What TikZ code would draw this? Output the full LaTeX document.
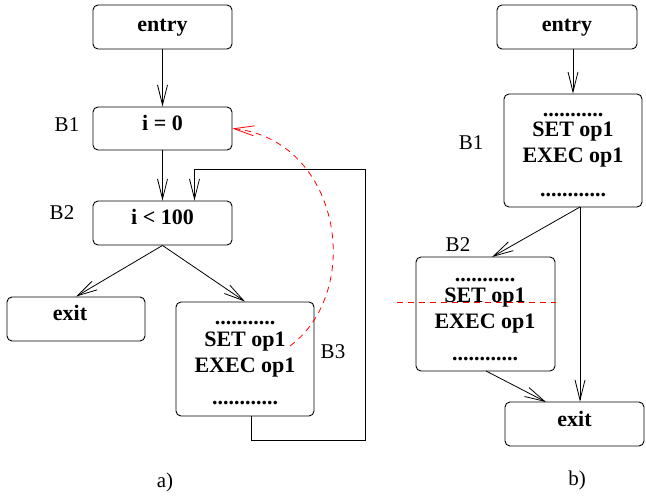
\documentclass[tikz,border=0pt]{standalone}
\usepackage{fontspec}
\setmainfont{Liberation Serif}
\usetikzlibrary{arrows.meta}
\begin{document}
\begin{tikzpicture}[x=1pt,y=-1pt,
  box/.style={draw,line width=0.9pt,rounded corners=5pt,inner sep=0pt,minimum width=139pt},
  txt/.style={anchor=base,inner sep=0pt,font=\fontsize{22}{26}\selectfont\bfseries},
  lbl/.style={anchor=base,inner sep=0pt,font=\fontsize{21}{25}\selectfont},
  conn/.style={line width=0.8pt,-{Straight Barb[length=20pt,width=10pt,line width=0.8pt]}},
  plain/.style={line width=0.8pt},
  red/.style={draw=red,line width=0.8pt,dash pattern=on 6pt off 5pt},
]
\useasboundingbox (0,0) rectangle (646,497);
% ---------- a) ----------
\node[box,minimum height=44pt] (aentry) at (162.5,27) {};
\node[txt] (aentryt) at (162.5,32) {entry};
\node[box,minimum height=43pt] (ab1) at (162.5,128.5) {};
\node[txt] (ab1t) at (162.5,131) {i = 0};
\node[box,minimum height=44pt] (ab2) at (162.5,223) {};
\node[txt] (ab2t) at (162.5,225) {i < 100};
\node[box,minimum height=44pt,minimum width=138pt] (aexit) at (76,319) {};
\node[txt] (aexitt) at (70,321) {exit};
\node[box,minimum height=114pt,minimum width=138pt] (ab3) at (245,359) {};
\node[txt] (ab3a) at (245,325) {...........};
\node[txt] (ab3b) at (245,347) {SET op1};
\node[txt] (ab3c) at (245,373) {EXEC op1};
\node[txt] (ab3d) at (245,404) {............};
\node[lbl] (la1) at (67,132) {B1};
\node[lbl] (la2) at (62,220) {B2};
\node[lbl] (la3) at (333,359) {B3};
\node[lbl] (capa) at (165,487) {a)};
\draw[conn] (aentry.south) -- (ab1.north);
\draw[conn] (ab1.south) -- (ab2.north);
\draw[conn] (ab2.south) -- (aexit.north);
\draw[conn] (ab2.south) -- (ab3.north);
\coordinate (l1) at (251.5,440);
\coordinate (l2) at (365.5,440);
\coordinate (l3) at (365.5,169.5);
\coordinate (l4) at (194.5,169.5);
\draw[plain] (ab3.south -| l1) -- (l1) -- (l2) -- (l3) -- (l4);
\draw[conn] (l4) -- (ab2.north -| l4);
\coordinate (rs) at (290,346);
\draw[red,-{Straight Barb[length=20pt,width=10pt,line width=0.8pt,red]}] (rs) .. controls (365,290) and (340,140) .. (ab1.east);
% ---------- b) ----------
\node[box,minimum height=44pt,minimum width=140pt] (bentry) at (567,27) {};
\node[txt] (bentryt) at (567,32) {entry};
\node[box,minimum height=113pt,minimum width=138pt] (bb1) at (573,150.5) {};
\node[txt] (bb1a) at (573,117) {...........};
\node[txt] (bb1b) at (573,137) {SET op1};
\node[txt] (bb1c) at (573,163) {EXEC op1};
\node[txt] (bb1d) at (573,197) {............};
\node[box,minimum height=114pt,minimum width=139pt] (bb2) at (485.5,314) {};
\node[txt] (bb2a) at (485,282) {...........};
\node[txt] (bb2b) at (485,303) {SET op1};
\node[txt] (bb2c) at (485,329) {EXEC op1};
\node[txt] (bb2d) at (485,361) {............};
\node[box,minimum height=44pt] (bexit) at (574.5,424) {};
\node[txt] (bexitt) at (574.5,426) {exit};
\node[lbl] (lb1) at (471,150) {B1};
\node[lbl] (lb2) at (458,252) {B2};
\node[lbl] (capb) at (577,485) {b)};
\draw[conn] (bentry.south -| 573,0) -- (bb1.north -| 573,0);
\coordinate (bs) at (580,207);
\draw[conn] (bs) -- (492,257);
\draw[conn] (bs) -- (bexit.north -| bs);
\draw[conn] (486,371) -- (546,402);
\coordinate (rl1) at (397,302);
\coordinate (rl2) at (556,302);
\draw[red] (rl1) -- (rl2);
\end{tikzpicture}
\end{document}
